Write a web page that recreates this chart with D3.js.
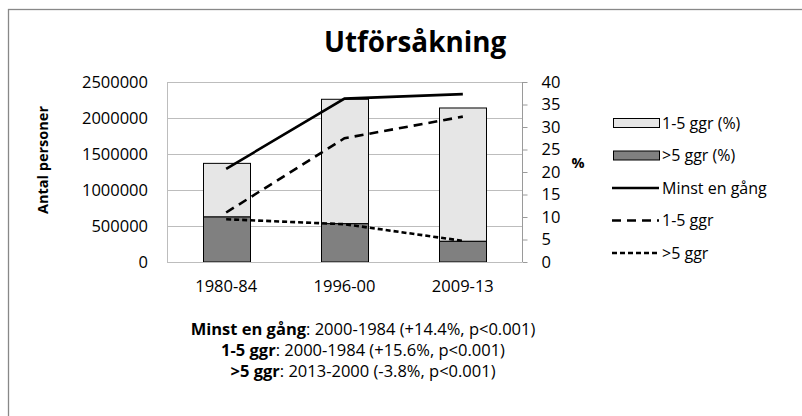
<!DOCTYPE html>
<html><head><meta charset="utf-8">
<script src="https://cdn.jsdelivr.net/npm/d3@7"></script>
<style>
body{margin:0;background:#fff;}
svg{display:block;font-family:"Open Sans",sans-serif;}
</style></head>
<body>
<svg id="c" width="802" height="416"></svg>
<script>
const categories = ["1980-84", "1996-00", "2009-13"];
const barLow = [625000, 532000, 287000];          // >5 ggr (%) bar segment
const barHigh = [745000, 1728000, 1852000];       // 1-5 ggr (%) bar segment (stacked)
const lineMinst = [20.7, 36.3, 37.3];
const line15 = [11.0, 27.5, 32.3];
const line5 = [9.5, 8.4, 4.7];
const leftTicks = [0, 500000, 1000000, 1500000, 2000000, 2500000];
const rightTicks = [0, 5, 10, 15, 20, 25, 30, 35, 40];
const notes = [
  ["Minst en gång", ": 2000-1984 (+14.4%, p<0.001)"],
  ["1-5 ggr", ": 2000-1984 (+15.6%, p<0.001)"],
  [">5 ggr", ": 2013-2000 (-3.8%, p<0.001)"]
];

const svg = d3.select("#c");
const L = 167, R = 522, T = 82, B = 262;
const fs = 16.5;

svg.append("rect").attr("x", 8.5).attr("y", 9.5).attr("width", 820).attr("height", 430)
  .attr("fill", "#fff").attr("stroke", "#888").attr("stroke-width", 1.3);

const x = d3.scaleBand().domain(categories).range([L, R]).paddingInner(0.6).paddingOuter(0.3);
const yL = d3.scaleLinear().domain([0, 2500000]).range([B, T]);
const yR = d3.scaleLinear().domain([0, 40]).range([B, T]);

// gridlines
svg.append("g").selectAll("line").data(leftTicks).join("line")
  .attr("x1", L).attr("x2", R).attr("y1", d => yL(d) + 0.5).attr("y2", d => yL(d) + 0.5)
  .attr("stroke", "#bdbdbd").attr("stroke-width", 1);
svg.append("line").attr("x1", L + 0.5).attr("x2", L + 0.5).attr("y1", T).attr("y2", B)
  .attr("stroke", "#bdbdbd");

// left axis
const ax = d3.axisLeft(yL).tickValues(leftTicks).tickSize(0).tickPadding(19).tickFormat(d3.format("d"));
const gL = svg.append("g").attr("transform", `translate(${L},0)`).call(ax);
gL.select(".domain").remove();
gL.selectAll("text").attr("font-size", fs).attr("font-family", "Open Sans").attr("fill", "#000");

// right axis
const axR = d3.axisRight(yR).tickValues(rightTicks).tickSize(5).tickPadding(14);
const gR = svg.append("g").attr("transform", `translate(${R + 0.5},0)`).call(axR);
gR.select(".domain").attr("stroke", "#9a9a9a").attr("d", `M0,${T}V${B}`);
gR.selectAll(".tick line").attr("stroke", "#9a9a9a");
gR.selectAll("text").attr("font-size", fs).attr("font-family", "Open Sans").attr("fill", "#000");

// bars
const gb = svg.append("g");
gb.selectAll(".hi").data(categories).join("rect")
  .attr("x", d => Math.round(x(d)) + 0.5).attr("width", Math.round(x.bandwidth()))
  .attr("y", (d, i) => yL(barLow[i] + barHigh[i]))
  .attr("height", (d, i) => yL(barLow[i]) - yL(barLow[i] + barHigh[i]))
  .attr("fill", "#e6e6e6").attr("stroke", "#000").attr("stroke-width", 1);
gb.selectAll(".lo").data(categories).join("rect")
  .attr("x", d => Math.round(x(d)) + 0.5).attr("width", Math.round(x.bandwidth()))
  .attr("y", (d, i) => yL(barLow[i]))
  .attr("height", (d, i) => B - yL(barLow[i]))
  .attr("fill", "#808080").attr("stroke", "#000").attr("stroke-width", 1);

// bottom baseline
svg.append("line").attr("x1", L).attr("x2", R).attr("y1", B + 0.5).attr("y2", B + 0.5)
  .attr("stroke", "#bdbdbd");

// lines
const cx = d => x(d) + x.bandwidth() / 2;
const lineGen = arr => d3.line().x(d => cx(d)).y((d, i) => yR(arr[i]))(categories);
const lineStyles = [
  [lineMinst, null],
  [line15, "9,6"],
  [line5, "5,3"]
];
lineStyles.forEach(([arr, dash]) => {
  svg.append("path").attr("d", lineGen(arr)).attr("fill", "none")
    .attr("stroke", "#000").attr("stroke-width", 2.6)
    .attr("stroke-dasharray", dash);
});

// x labels
svg.append("g").selectAll("text").data(categories).join("text")
  .attr("x", d => cx(d)).attr("y", 292).attr("text-anchor", "middle")
  .attr("font-size", fs).text(d => d);

// title
svg.append("text").attr("x", 415).attr("y", 52).attr("text-anchor", "middle")
  .attr("font-size", 27.8).attr("font-weight", "bold").text("Utförsåkning");

// axis titles
svg.append("text").attr("transform", "translate(48,160) rotate(-90)").attr("text-anchor", "middle")
  .attr("font-size", 14.5).attr("font-weight", "bold").text("Antal personer");
svg.append("text").attr("x", 578).attr("y", 168).attr("text-anchor", "middle")
  .attr("font-size", 14.5).attr("font-weight", "bold").text("%");

// legend
const legItems = [
  {type: "rect", fill: "#e6e6e6", label: "1-5 ggr (%)"},
  {type: "rect", fill: "#808080", label: ">5 ggr (%)"},
  {type: "line", dash: null, label: "Minst en gång"},
  {type: "line", dash: "9,6", label: "1-5 ggr"},
  {type: "line", dash: "5,3", label: ">5 ggr"}
];
const lg = svg.append("g");
legItems.forEach((it, i) => {
  const yy = 123 + i * 32.5;
  if (it.type === "rect") {
    lg.append("rect").attr("x", 613.5).attr("y", yy - 4.5).attr("width", 46).attr("height", 9)
      .attr("fill", it.fill).attr("stroke", "#000").attr("stroke-width", 1);
  } else {
    lg.append("line").attr("x1", 612).attr("x2", 659).attr("y1", yy).attr("y2", yy)
      .attr("stroke", "#000").attr("stroke-width", 2.6).attr("stroke-dasharray", it.dash);
  }
  lg.append("text").attr("x", 662).attr("y", yy + 5.8).attr("font-size", 16).text(it.label);
});

// notes
notes.forEach((n, i) => {
  const t = svg.append("text").attr("x", 363).attr("y", 335 + i * 21).attr("text-anchor", "middle")
    .attr("font-size", 16.5);
  t.append("tspan").attr("font-weight", "bold").text(n[0]);
  t.append("tspan").text(n[1]);
});
</script>
</body></html>
